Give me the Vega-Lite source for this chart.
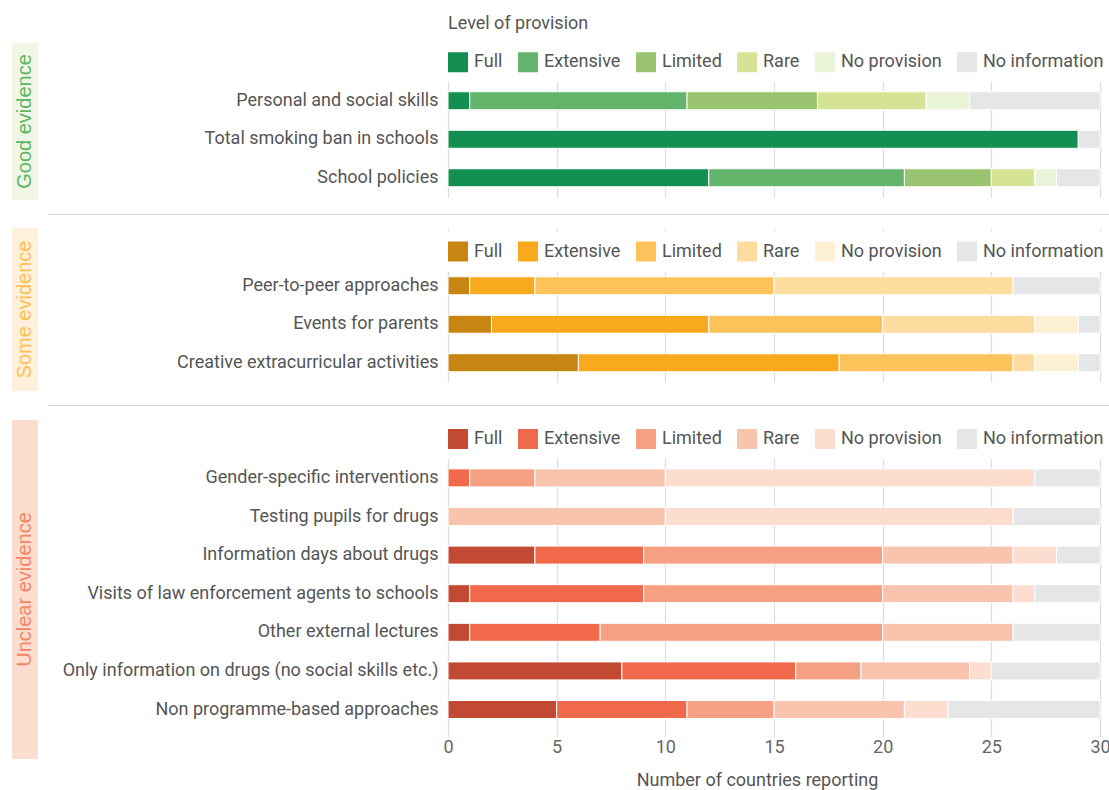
{
  "$schema": "https://vega.github.io/schema/vega-lite/v6.json",
  "padding": {"left": 12, "top": 5, "right": 0, "bottom": 0},
  "spacing": 8,
  "config": {
    "font": "Roboto",
    "view": {"stroke": null},
    "axis": {"labelFont": "Roboto", "titleFont": "Roboto"},
    "legend": {"labelFont": "Roboto", "titleFont": "Roboto"}
  },
  "resolve": {"scale": {"color": "independent", "x": "independent", "y": "independent"}, "legend": {"color": "independent"}},
  "datasets": {
    "d": [
      {"g": "Good", "item": "Personal and social skills", "level": "Full", "r": 1, "n": 1},
      {"g": "Good", "item": "Personal and social skills", "level": "Extensive", "r": 2, "n": 10},
      {"g": "Good", "item": "Personal and social skills", "level": "Limited", "r": 3, "n": 6},
      {"g": "Good", "item": "Personal and social skills", "level": "Rare", "r": 4, "n": 5},
      {"g": "Good", "item": "Personal and social skills", "level": "No provision", "r": 5, "n": 2},
      {"g": "Good", "item": "Personal and social skills", "level": "No information", "r": 6, "n": 6},
      {"g": "Good", "item": "Total smoking ban in schools", "level": "Full", "r": 1, "n": 29},
      {"g": "Good", "item": "Total smoking ban in schools", "level": "No information", "r": 6, "n": 1},
      {"g": "Good", "item": "School policies", "level": "Full", "r": 1, "n": 12},
      {"g": "Good", "item": "School policies", "level": "Extensive", "r": 2, "n": 9},
      {"g": "Good", "item": "School policies", "level": "Limited", "r": 3, "n": 4},
      {"g": "Good", "item": "School policies", "level": "Rare", "r": 4, "n": 2},
      {"g": "Good", "item": "School policies", "level": "No provision", "r": 5, "n": 1},
      {"g": "Good", "item": "School policies", "level": "No information", "r": 6, "n": 2},

      {"g": "Some", "item": "Peer-to-peer approaches", "level": "Full", "r": 1, "n": 1},
      {"g": "Some", "item": "Peer-to-peer approaches", "level": "Extensive", "r": 2, "n": 3},
      {"g": "Some", "item": "Peer-to-peer approaches", "level": "Limited", "r": 3, "n": 11},
      {"g": "Some", "item": "Peer-to-peer approaches", "level": "Rare", "r": 4, "n": 11},
      {"g": "Some", "item": "Peer-to-peer approaches", "level": "No information", "r": 6, "n": 4},
      {"g": "Some", "item": "Events for parents", "level": "Full", "r": 1, "n": 2},
      {"g": "Some", "item": "Events for parents", "level": "Extensive", "r": 2, "n": 10},
      {"g": "Some", "item": "Events for parents", "level": "Limited", "r": 3, "n": 8},
      {"g": "Some", "item": "Events for parents", "level": "Rare", "r": 4, "n": 7},
      {"g": "Some", "item": "Events for parents", "level": "No provision", "r": 5, "n": 2},
      {"g": "Some", "item": "Events for parents", "level": "No information", "r": 6, "n": 1},
      {"g": "Some", "item": "Creative extracurricular activities", "level": "Full", "r": 1, "n": 6},
      {"g": "Some", "item": "Creative extracurricular activities", "level": "Extensive", "r": 2, "n": 12},
      {"g": "Some", "item": "Creative extracurricular activities", "level": "Limited", "r": 3, "n": 8},
      {"g": "Some", "item": "Creative extracurricular activities", "level": "Rare", "r": 4, "n": 1},
      {"g": "Some", "item": "Creative extracurricular activities", "level": "No provision", "r": 5, "n": 2},
      {"g": "Some", "item": "Creative extracurricular activities", "level": "No information", "r": 6, "n": 1},

      {"g": "Unclear", "item": "Gender-specific interventions", "level": "Extensive", "r": 2, "n": 1},
      {"g": "Unclear", "item": "Gender-specific interventions", "level": "Limited", "r": 3, "n": 3},
      {"g": "Unclear", "item": "Gender-specific interventions", "level": "Rare", "r": 4, "n": 6},
      {"g": "Unclear", "item": "Gender-specific interventions", "level": "No provision", "r": 5, "n": 17},
      {"g": "Unclear", "item": "Gender-specific interventions", "level": "No information", "r": 6, "n": 3},
      {"g": "Unclear", "item": "Testing pupils for drugs", "level": "Rare", "r": 4, "n": 10},
      {"g": "Unclear", "item": "Testing pupils for drugs", "level": "No provision", "r": 5, "n": 16},
      {"g": "Unclear", "item": "Testing pupils for drugs", "level": "No information", "r": 6, "n": 4},
      {"g": "Unclear", "item": "Information days about drugs", "level": "Full", "r": 1, "n": 4},
      {"g": "Unclear", "item": "Information days about drugs", "level": "Extensive", "r": 2, "n": 5},
      {"g": "Unclear", "item": "Information days about drugs", "level": "Limited", "r": 3, "n": 11},
      {"g": "Unclear", "item": "Information days about drugs", "level": "Rare", "r": 4, "n": 6},
      {"g": "Unclear", "item": "Information days about drugs", "level": "No provision", "r": 5, "n": 2},
      {"g": "Unclear", "item": "Information days about drugs", "level": "No information", "r": 6, "n": 2},
      {"g": "Unclear", "item": "Visits of law enforcement agents to schools", "level": "Full", "r": 1, "n": 1},
      {"g": "Unclear", "item": "Visits of law enforcement agents to schools", "level": "Extensive", "r": 2, "n": 8},
      {"g": "Unclear", "item": "Visits of law enforcement agents to schools", "level": "Limited", "r": 3, "n": 11},
      {"g": "Unclear", "item": "Visits of law enforcement agents to schools", "level": "Rare", "r": 4, "n": 6},
      {"g": "Unclear", "item": "Visits of law enforcement agents to schools", "level": "No provision", "r": 5, "n": 1},
      {"g": "Unclear", "item": "Visits of law enforcement agents to schools", "level": "No information", "r": 6, "n": 3},
      {"g": "Unclear", "item": "Other external lectures", "level": "Full", "r": 1, "n": 1},
      {"g": "Unclear", "item": "Other external lectures", "level": "Extensive", "r": 2, "n": 6},
      {"g": "Unclear", "item": "Other external lectures", "level": "Limited", "r": 3, "n": 13},
      {"g": "Unclear", "item": "Other external lectures", "level": "Rare", "r": 4, "n": 6},
      {"g": "Unclear", "item": "Other external lectures", "level": "No information", "r": 6, "n": 4},
      {"g": "Unclear", "item": "Only information on drugs (no social skills etc.)", "level": "Full", "r": 1, "n": 8},
      {"g": "Unclear", "item": "Only information on drugs (no social skills etc.)", "level": "Extensive", "r": 2, "n": 8},
      {"g": "Unclear", "item": "Only information on drugs (no social skills etc.)", "level": "Limited", "r": 3, "n": 3},
      {"g": "Unclear", "item": "Only information on drugs (no social skills etc.)", "level": "Rare", "r": 4, "n": 5},
      {"g": "Unclear", "item": "Only information on drugs (no social skills etc.)", "level": "No provision", "r": 5, "n": 1},
      {"g": "Unclear", "item": "Only information on drugs (no social skills etc.)", "level": "No information", "r": 6, "n": 5},
      {"g": "Unclear", "item": "Non programme-based approaches", "level": "Full", "r": 1, "n": 5},
      {"g": "Unclear", "item": "Non programme-based approaches", "level": "Extensive", "r": 2, "n": 6},
      {"g": "Unclear", "item": "Non programme-based approaches", "level": "Limited", "r": 3, "n": 4},
      {"g": "Unclear", "item": "Non programme-based approaches", "level": "Rare", "r": 4, "n": 6},
      {"g": "Unclear", "item": "Non programme-based approaches", "level": "No provision", "r": 5, "n": 2},
      {"g": "Unclear", "item": "Non programme-based approaches", "level": "No information", "r": 6, "n": 7}
    ]
  },
  "vconcat": [
    {
      "spacing": 10,
      "resolve": {"scale": {"color": "independent"}, "legend": {"color": "independent"}},
      "hconcat": [
        {
          "width": 26, "height": 157,
          "view": {"fill": "#F2F7E5", "stroke": null},
          "data": {"values": [{"t": "Good evidence"}]},
          "mark": {"type": "text", "angle": 270, "fontSize": 20, "font": "Liberation Sans", "color": "#5DB665"},
          "encoding": {"text": {"field": "t"}}
        },
        {
          "width": 652, "height": 154,
          "data": {"name": "d"},
          "transform": [{"filter": "datum.g == 'Good'"}],
          "mark": {"type": "bar", "size": 18, "stroke": "white", "strokeWidth": 1},
          "encoding": {
            "y": {"field": "item", "type": "nominal",
              "scale": {"domain": [" ", "Personal and social skills", "Total smoking ban in schools", "School policies"]},
              "axis": {"title": null, "domain": false, "ticks": false, "labelPadding": 10, "minExtent": 400, "maxExtent": 400, "labelLimit": 400, "labelFontSize": 18, "labelColor": "#555"}},
            "x": {"field": "n", "type": "quantitative", "stack": "zero",
              "scale": {"domain": [0, 30], "nice": false},
              "axis": {"values": [0, 5, 10, 15, 20, 25, 30], "labels": false, "ticks": false, "domain": false, "title": null, "minExtent": 0, "maxExtent": 0, "grid": true, "gridColor": "#dedede", "gridWidth": 1.3}},
            "color": {"field": "level", "type": "nominal",
              "scale": {"domain": ["Full", "Extensive", "Limited", "Rare", "No provision", "No information"], "range": ["#138F52", "#63B56B", "#9AC470", "#D4E494", "#EAF4D9", "#E5E6E8"]},
              "legend": {"orient": "none", "direction": "horizontal", "legendX": -10, "legendY": -37.75, "title": "Level of provision", "titleFontSize": 18, "titleColor": "#555", "titleFontWeight": "normal", "titlePadding": 19, "symbolType": "square", "symbolSize": 400, "symbolStrokeWidth": 0, "labelFontSize": 18, "labelColor": "#555", "labelOffset": 6, "columnPadding": 15, "padding": 10, "fillColor": "white"}},
            "order": {"field": "r", "type": "quantitative"}
          }
        }
      ]
    },
    {
      "spacing": 10,
      "hconcat": [
        {"width": 26, "height": 1, "data": {"values": [{}]}, "mark": {"type": "text"}, "encoding": {"text": {"value": ""}}},
        {"width": 1061, "height": 1, "view": {"fill": "#d9d9d9", "stroke": null}, "data": {"values": [{}]}, "mark": {"type": "text"}, "encoding": {"text": {"value": ""}}}
      ]
    },
    {
      "spacing": 10,
      "resolve": {"scale": {"color": "independent"}, "legend": {"color": "independent"}},
      "hconcat": [
        {
          "width": 26, "height": 163,
          "view": {"fill": "#FEF0DA", "stroke": null},
          "data": {"values": [{"t": "Some evidence"}]},
          "mark": {"type": "text", "angle": 270, "fontSize": 20, "font": "Liberation Sans", "color": "#FDC056"},
          "encoding": {"text": {"field": "t"}}
        },
        {
          "width": 652, "height": 154,
          "data": {"name": "d"},
          "transform": [{"filter": "datum.g == 'Some'"}],
          "mark": {"type": "bar", "size": 18, "stroke": "white", "strokeWidth": 1},
          "encoding": {
            "y": {"field": "item", "type": "nominal",
              "scale": {"domain": [" ", "Peer-to-peer approaches", "Events for parents", "Creative extracurricular activities"]},
              "axis": {"title": null, "domain": false, "ticks": false, "labelPadding": 10, "minExtent": 400, "maxExtent": 400, "labelLimit": 400, "labelFontSize": 18, "labelColor": "#555"}},
            "x": {"field": "n", "type": "quantitative", "stack": "zero",
              "scale": {"domain": [0, 30], "nice": false},
              "axis": {"values": [0, 5, 10, 15, 20, 25, 30], "labels": false, "ticks": false, "domain": false, "title": null, "minExtent": 0, "maxExtent": 0, "grid": true, "gridColor": "#dedede", "gridWidth": 1.3}},
            "color": {"field": "level", "type": "nominal",
              "scale": {"domain": ["Full", "Extensive", "Limited", "Rare", "No provision", "No information"], "range": ["#C98511", "#F8A91D", "#FDC35A", "#FEDC9F", "#FEF0D3", "#E5E6E8"]},
              "legend": {"orient": "none", "direction": "horizontal", "legendX": -10, "legendY": 3.5, "title": null, "symbolType": "square", "symbolSize": 400, "symbolStrokeWidth": 0, "labelFontSize": 18, "labelColor": "#555", "labelOffset": 6, "columnPadding": 15, "padding": 10, "fillColor": "white"}},
            "order": {"field": "r", "type": "quantitative"}
          }
        }
      ]
    },
    {
      "spacing": 10,
      "hconcat": [
        {"width": 26, "height": 1, "data": {"values": [{}]}, "mark": {"type": "text"}, "encoding": {"text": {"value": ""}}},
        {"width": 1061, "height": 1, "view": {"fill": "#d9d9d9", "stroke": null}, "data": {"values": [{}]}, "mark": {"type": "text"}, "encoding": {"text": {"value": ""}}}
      ]
    },
    {
      "spacing": 10,
      "resolve": {"scale": {"color": "independent"}, "legend": {"color": "independent"}},
      "hconcat": [
        {
          "width": 26, "height": 339,
          "view": {"fill": "#FDDDD0", "stroke": null},
          "data": {"values": [{"t": "Unclear evidence"}]},
          "mark": {"type": "text", "angle": 270, "fontSize": 20, "font": "Liberation Sans", "color": "#F58566"},
          "encoding": {"text": {"field": "t"}}
        },
        {
          "width": 652, "height": 308.8,
          "data": {"name": "d"},
          "transform": [{"filter": "datum.g == 'Unclear'"}],
          "mark": {"type": "bar", "size": 18, "stroke": "white", "strokeWidth": 1},
          "encoding": {
            "y": {"field": "item", "type": "nominal",
              "scale": {"domain": [" ", "Gender-specific interventions", "Testing pupils for drugs", "Information days about drugs", "Visits of law enforcement agents to schools", "Other external lectures", "Only information on drugs (no social skills etc.)", "Non programme-based approaches"]},
              "axis": {"title": null, "domain": false, "ticks": false, "labelPadding": 10, "minExtent": 400, "maxExtent": 400, "labelLimit": 400, "labelFontSize": 18, "labelColor": "#555"}},
            "x": {"field": "n", "type": "quantitative", "stack": "zero",
              "scale": {"domain": [0, 30], "nice": false},
              "axis": {"values": [0, 5, 10, 15, 20, 25, 30], "title": "Number of countries reporting", "domain": false, "ticks": true, "tickSize": 8, "tickColor": "#dedede", "tickWidth": 1.3, "labelFontSize": 18, "labelColor": "#666", "labelPadding": 2, "labelFlush": false, "labelOverlap": false, "titleFontSize": 18, "titleColor": "#555", "titleFontWeight": "normal", "titlePadding": 15, "titleX": 309, "grid": true, "gridColor": "#dedede", "gridWidth": 1.3}},
            "color": {"field": "level", "type": "nominal",
              "scale": {"domain": ["Full", "Extensive", "Limited", "Rare", "No provision", "No information"], "range": ["#C24A33", "#F0694B", "#F5A083", "#F9C4AE", "#FDDDD0", "#E5E6E8"]},
              "legend": {"orient": "none", "direction": "horizontal", "legendX": -10, "legendY": -1, "title": null, "symbolType": "square", "symbolSize": 400, "symbolStrokeWidth": 0, "labelFontSize": 18, "labelColor": "#555", "labelOffset": 6, "columnPadding": 15, "padding": 10, "fillColor": "white"}},
            "order": {"field": "r", "type": "quantitative"}
          }
        }
      ]
    }
  ]
}
